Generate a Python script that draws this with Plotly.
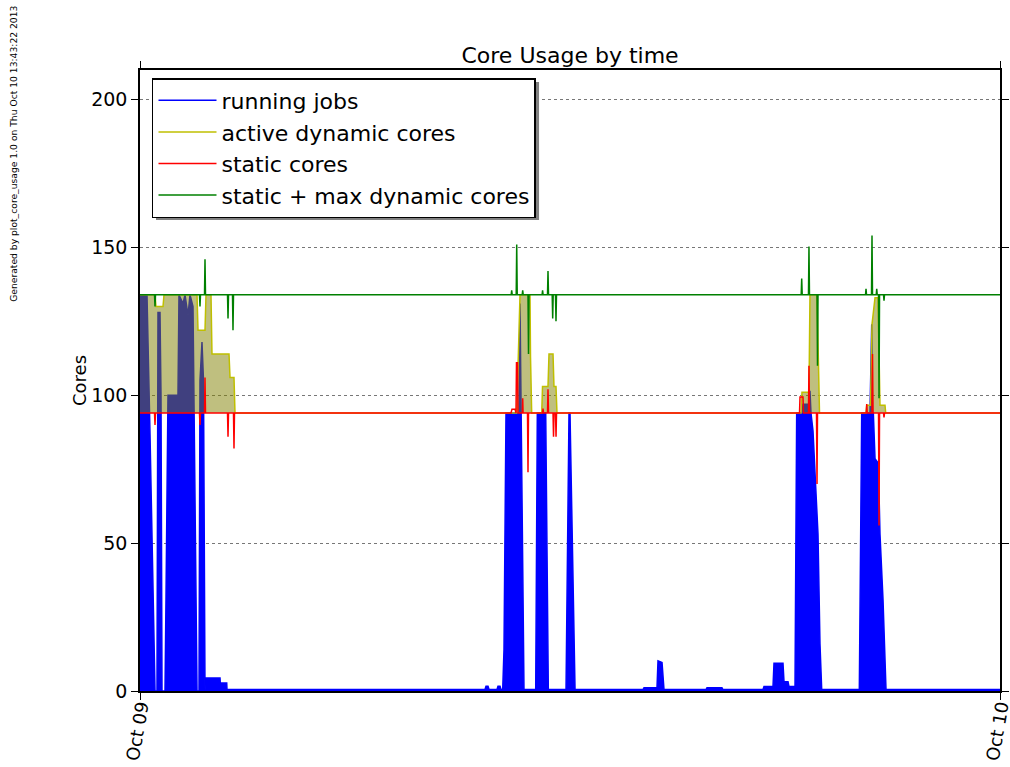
import plotly.graph_objects as go

# ---------------- data (hours after Oct 09 00:00) ----------------
jobs_t = [0.00, 0.195, 0.279, 0.419, 0.474, 0.502, 0.558, 0.586, 0.614, 0.698,
          0.726, 0.781, 1.060, 1.088, 1.200, 1.256, 1.340, 1.395, 1.479, 1.591,
          1.647, 1.674, 1.730, 1.772, 1.814, 1.828, 2.233, 2.240, 2.420, 2.428,
          9.628, 9.656, 9.712, 9.740, 9.963, 9.991, 10.047, 10.074, 10.122, 10.158,
          10.214, 10.577, 10.605, 10.633, 10.652, 10.716, 11.043, 11.088, 11.322, 11.395,
          11.889, 11.972, 12.000, 12.140, 14.037, 14.065, 14.428, 14.456, 14.568, 14.623,
          15.795, 15.823, 16.241, 16.270, 17.386, 17.414, 17.665, 17.693, 17.944, 17.972,
          18.084, 18.112, 18.279, 18.326, 18.474, 18.502, 18.669, 18.697, 18.725, 18.781,
          18.921, 18.976, 19.024, 20.074, 20.141, 20.372, 20.420, 20.442, 20.465, 20.512,
          20.604, 20.651, 20.735, 20.819, 24.0]
jobs_v = [134, 134, 87, 0, 0, 128, 128, 100, 0, 0,
          32, 100, 100, 134, 131, 134, 127, 134, 130, 0,
          0, 105, 118, 105, 0, 4.4, 4.4, 2.7, 2.7, 0.5,
          0.5, 1.6, 1.6, 0.5, 0.5, 1.6, 1.6, 0.5, 0.5, 14,
          94, 94, 131, 94, 94, 0.5, 0.5, 94, 94, 0.5,
          0.5, 94, 94, 0.5, 0.5, 1.1, 1.1, 10.2, 9.6, 0.5,
          0.5, 1.1, 1.1, 0.5, 0.5, 1.5, 1.5, 9.4, 9.4, 3.1,
          3.1, 1.5, 1.5, 94, 94, 97, 97, 101.5, 94, 88,
          53, 16, 0.5, 0.5, 94, 94, 124, 94, 94, 78.6,
          77, 53, 31, 0.5, 0.5]

dyn_t = [0.00, 0.419, 0.446, 0.642, 0.670, 1.591, 1.619, 1.814, 1.842, 1.981,
         2.009, 2.484, 2.512, 2.623, 2.651, 10.513, 10.605, 10.884, 10.898, 10.931,
         11.211, 11.233, 11.386, 11.414, 11.526, 11.553, 11.609, 11.637, 18.447, 18.474,
         18.669, 18.697, 18.893, 18.963, 20.261, 20.281, 20.386, 20.428, 20.512, 20.595,
         20.651, 20.791, 20.810, 24.0]
dyn_v = [134, 134, 130, 130, 134, 134, 122, 122, 134, 134,
         114, 114, 106, 106, 94, 94, 134, 134, 113, 94,
         94, 103, 103, 114, 114, 103, 103, 94, 94, 101,
         101, 134, 134, 94, 94, 96.6, 96.6, 124, 133, 133,
         96.6, 96.6, 94, 94]

static_base = 94

static_t = [0, 0.405, 0.419, 0.433, 1.660, 1.674, 1.688, 1.800, 1.814, 1.828,
            2.442, 2.456, 2.470, 2.609, 2.623, 2.637, 10.354, 10.381, 10.465, 10.493,
            10.507, 10.535, 10.549, 10.670, 10.680, 10.690, 10.814, 10.828, 10.842, 11.233,
            11.247, 11.261, 11.372, 11.386, 11.400, 11.526, 11.540, 11.554, 11.596, 11.610,
            11.624, 18.405, 18.419, 18.502, 18.516, 18.655, 18.669, 18.683, 18.879, 18.893,
            18.907, 20.267, 20.281, 20.295, 20.428, 20.442, 20.456, 20.610, 20.624, 20.638,
            20.749, 20.763, 20.777, 24]
static_v = [94, 94, 90, 94, 94, 90, 94, 94, 106, 94,
            94, 86, 94, 94, 82, 94, 94, 95.3, 95.3, 94,
            111, 111, 94, 94, 99, 94, 94, 74, 94, 94,
            95.5, 94, 94, 102, 94, 94, 86, 94, 94, 86,
            94, 94, 99.4, 99.4, 94, 94, 110, 94, 94, 70,
            94, 94, 97, 94, 94, 114, 94, 94, 56, 94,
            94, 92.5, 94, 94]

max_t = [0, 0.405, 0.419, 0.433, 1.660, 1.674, 1.688, 1.800, 1.814, 1.828,
         2.442, 2.456, 2.470, 2.581, 2.595, 2.609, 10.359, 10.373, 10.387, 10.499,
         10.513, 10.527, 10.666, 10.680, 10.694, 10.828, 10.842, 10.856, 11.221, 11.235,
         11.249, 11.372, 11.386, 11.400, 11.503, 11.517, 11.531, 11.595, 11.609, 11.623,
         18.452, 18.466, 18.480, 18.655, 18.669, 18.683, 18.893, 18.907, 18.921, 20.247,
         20.261, 20.275, 20.414, 20.428, 20.442, 20.546, 20.560, 20.574, 20.610, 20.624,
         20.638, 20.749, 20.763, 20.777, 24]
max_v = [134, 134, 130, 134, 134, 130, 134, 134, 146, 134,
         134, 126, 134, 134, 122, 134, 134, 135.5, 134, 134,
         151, 134, 134, 135.5, 134, 134, 114, 134, 134, 135.5,
         134, 134, 142, 134, 134, 126, 134, 134, 125, 134,
         134, 139.5, 134, 134, 150.3, 134, 134, 110, 134, 134,
         136, 134, 134, 154, 134, 134, 136, 134, 134, 99,
         134, 134, 132, 134, 134]

x_tick_vals = [0, 24]
x_tick_text = ["Oct 09", "Oct 10"]
y_tick_vals = [0, 50, 100, 150, 200]
series_names = ["running jobs", "active dynamic cores", "static cores",
                "static + max dynamic cores"]
series_colors = ["#0000ff", "#bfbf00", "#ff0000", "#008000"]

FONT = "DejaVu Sans"

fig = go.Figure()

# running jobs (filled)
fig.add_trace(go.Scatter(x=jobs_t, y=jobs_v, mode="lines", fill="tozeroy",
                         fillcolor=series_colors[0],
                         line=dict(color=series_colors[0], width=1.5),
                         showlegend=False, hoverinfo="skip"))
# baseline for dynamic fill
fig.add_trace(go.Scatter(x=dyn_t, y=[static_base] * len(dyn_t), mode="lines",
                         line=dict(width=0, color="rgba(0,0,0,0)"),
                         showlegend=False, hoverinfo="skip"))
# active dynamic cores
fig.add_trace(go.Scatter(x=dyn_t, y=dyn_v, mode="lines", fill="tonexty",
                         fillcolor="rgba(128,128,0,0.5)",
                         line=dict(color=series_colors[1], width=1.5),
                         showlegend=False, hoverinfo="skip"))
# static cores
fig.add_trace(go.Scatter(x=static_t, y=static_v, mode="lines",
                         line=dict(color=series_colors[2], width=1.5),
                         showlegend=False, hoverinfo="skip"))
# static + max dynamic
fig.add_trace(go.Scatter(x=max_t, y=max_v, mode="lines",
                         line=dict(color=series_colors[3], width=1.5),
                         showlegend=False, hoverinfo="skip"))

# legend entries (line only, as in the original)
for name, col in zip(series_names, series_colors):
    fig.add_trace(go.Scatter(x=[None], y=[None], mode="lines", name=name,
                             line=dict(color=col, width=1.5)))

axis_common = dict(showline=True, linecolor="black", linewidth=1.5, mirror="ticks",
                   ticks="outside", ticklen=7, tickwidth=1, tickcolor="black",
                   zeroline=False, automargin=False)

fig.update_layout(
    width=1010, height=767,
    margin=dict(l=140, r=10, t=70, b=76, autoexpand=False),
    paper_bgcolor="white", plot_bgcolor="white",
    font=dict(family=FONT, color="black"),
    title=dict(text="Core Usage by time", x=0.5644, xanchor="center",
               y=0.9283, yanchor="middle", font=dict(family=FONT, size=22)),
    xaxis=dict(range=[0, 24], tickvals=x_tick_vals, ticktext=x_tick_text,
               tickangle=-80, showgrid=False, ticklabeloverflow="allow",
               ticklabelstandoff=-11,
               tickfont=dict(family=FONT, size=18, color="black"),
               **axis_common),
    yaxis=dict(range=[0, 210], tickvals=y_tick_vals, showgrid=True,
               gridcolor="#777777", griddash="dot", gridwidth=1,
               tickfont=dict(family=FONT, size=19, color="black"),
               title=dict(text="Cores", font=dict(family=FONT, size=18), standoff=0),
               **axis_common),
    legend=dict(x=0.01395, y=0.9871, xanchor="left", yanchor="top",
                bgcolor="white", bordercolor="black", borderwidth=1.5,
                font=dict(family=FONT, size=22, color="black"),
                itemwidth=58, tracegroupgap=0, traceorder="normal"),
    showlegend=True,
    shapes=[dict(type="rect", xref="paper", yref="paper",
                 x0=0.0186, x1=0.464, y0=0.7585, y1=0.9807,
                 fillcolor="#808080", line=dict(width=0), layer="above")],
    annotations=[dict(text="Generated by plot_core_usage 1.0 on Thu Oct 10 13:43:22 2013",
                      xref="paper", yref="paper", x=-0.1465, y=0.865,
                      xanchor="center", yanchor="middle",
                      textangle=-90, showarrow=False,
                      font=dict(family=FONT, size=9.2, color="black"))],
)

fig.write_html("out.html",
               config={"displayModeBar": False},
               post_script="document.body.style.margin='0';"
                           "document.body.style.overflow='hidden';")
